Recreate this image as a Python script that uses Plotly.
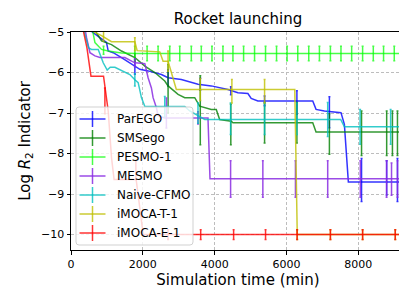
import plotly.graph_objects as go

# ---------------- data ----------------
methods = ["ParEGO", "SMSego", "PESMO-1", "MESMO", "Naive-CFMO", "iMOCA-T-1", "iMOCA-E-1"]
colors = ["rgba(0,0,255,0.8)", "rgba(0,128,0,0.8)", "rgba(0,255,0,0.72)", "rgba(138,43,226,0.85)",
          "rgba(0,191,191,0.8)", "rgba(191,191,0,0.8)", "rgba(255,0,0,0.8)"]

parego_x = [450, 592, 806, 989, 1036, 1175, 1406, 1778, 1917, 2147, 2517, 2703, 3072, 3536, 3906, 4370,
            4648, 4926, 5017, 5203, 6731, 6823, 7056, 7517, 7612, 7723, 9300]
parego_y = [-4.6, -5.0, -5.14, -5.26, -5.47, -5.51, -5.63, -5.84, -5.92, -5.96, -6.05, -6.13, -6.17, -6.29,
            -6.33, -6.42, -6.50, -6.52, -6.64, -6.70, -6.70, -6.91, -6.95, -6.99, -7.28, -8.70, -8.70]
parego_ex = [1778, 2703, 3600, 4450, 5390, 6290, 7195, 8090, 8790, 9090, 9230]
parego_ey = [-5.86, -6.13, -6.29, -6.45, -6.70, -6.74, -6.98, -8.65, -8.60, -8.65, -8.60]
parego_ee = [0.18, 0.20, 0.15, 0.10, 0.12, 0.29, 0.38, 0.53, 0.42, 0.53, 0.42]

smsego_x = [550, 711, 850, 1128, 1406, 1778, 2056, 2333, 2611, 2703, 2981, 3167, 3445, 3584, 3906, 4045,
            4139, 4462, 4509, 6731, 6823, 9300]
smsego_y = [-4.6, -5.02, -5.22, -5.31, -5.47, -5.63, -5.84, -6.00, -6.21, -6.33, -6.54, -6.62, -6.62, -6.83,
            -6.91, -6.91, -7.16, -7.20, -7.24, -7.24, -7.47, -7.47]
smsego_ex = [1778, 2703, 3600, 4450, 5390, 6290, 7195, 8090, 8790, 8950, 9090]
smsego_ey = [-5.63, -6.40, -6.93, -7.28, -7.24, -7.24, -7.52, -7.50, -7.50, -7.50, -7.50]
smsego_ee = [0.10, 0.60, 0.85, 0.50, 0.50, 0.50, 0.50, 0.55, 0.55, 0.55, 0.55]

pesmo_x = [500, 619, 667, 850, 1036, 1406, 1778, 9300]
pesmo_y = [-4.5, -5.0, -5.26, -5.43, -5.47, -5.52, -5.53, -5.53]
pesmo_ex = [906, 1778, 2119, 2425, 2750, 3028, 3350, 3628, 3925, 4231, 4509, 4806, 5111, 5417, 5723, 6017,
            6314, 6620, 6917, 7223, 7517, 7815, 8120, 8417, 8703, 9001]
pesmo_ey = [-5.45] + [-5.53] * 25
pesmo_ee = [0.10] + [0.18] * 25

mesmo_x = [330, 397, 433, 528, 667, 806, 1500, 1778, 2056, 2147, 2239, 2286, 2378, 2425, 2611, 3814, 3870, 9300]
mesmo_y = [-4.6, -5.0, -5.14, -5.51, -5.59, -5.63, -5.63, -5.76, -5.78, -6.13, -6.38, -6.62, -6.87, -7.07,
           -7.12, -7.12, -8.62, -8.62]
mesmo_ex = [1778, 2656, 3536, 4444, 5342, 6250, 7148, 8056, 8787, 8925, 9092, 9230]
mesmo_ey = [-5.76, -7.00, -7.12, -8.63, -8.63, -8.63, -8.63, -8.63, -8.63, -8.63, -8.63, -8.63]
mesmo_ee = [0.10, 0.37, 0.15, 0.45, 0.45, 0.45, 0.45, 0.45, 0.45, 0.40, 0.45, 0.40]

naive_x = [320, 370, 489, 572, 758, 897, 1008, 1092, 1222, 1453, 1639, 1778, 1870, 1961, 2056, 3167, 3306,
           3723, 7509, 7612, 9300]
naive_y = [-4.6, -5.0, -5.39, -5.43, -5.43, -5.76, -5.94, -5.87, -5.87, -5.96, -6.05, -6.18, -6.25, -6.62,
           -6.84, -6.84, -6.95, -7.16, -7.16, -7.34, -7.34]
naive_ex = [1778, 2611, 3536, 4444, 5390, 6290, 7148, 8050, 8900, 9230]
naive_ey = [-6.18, -6.84, -7.00, -7.14, -7.14, -7.14, -7.16, -7.34, -7.34, -7.34]
naive_ee = [0.15, 0.25, 0.25, 0.39, 0.39, 0.39, 0.42, 0.43, 0.43, 0.43]

imocat_x = [560, 647, 850, 1036, 1128, 1778, 1842, 2472, 2564, 2703, 2842, 2933, 6231, 6300, 9300]
imocat_y = [-4.8, -5.0, -5.09, -5.18, -5.24, -5.24, -5.46, -5.49, -5.72, -5.72, -6.17, -6.42, -6.42, -10.0, -10.0]
imocat_ex = [906, 1778, 2703, 3600, 4480, 5390, 6300, 7223, 8120, 9030]
imocat_ey = [-5.10, -5.30, -5.72, -6.42, -6.46, -6.46, -10.0, -10.0, -10.0, -10.0]
imocat_ee = [0.12, 0.16, 0.25, 0.27, 0.29, 0.29, 0.12, 0.12, 0.12, 0.12]

imocae_x = [300, 350, 444, 556, 906, 1036, 1128, 1200, 1814, 1900, 2010, 9300]
imocae_y = [-4.4, -5.0, -5.39, -6.09, -6.09, -6.95, -8.10, -8.64, -8.64, -9.30, -10.0, -10.0]
imocae_ex = [944, 1806, 2703, 3611, 4528, 5417, 6295, 7223, 8120, 9028]
imocae_ey = [-6.70, -8.41, -10.0, -10.0, -10.0, -10.0, -10.0, -10.0, -10.0, -10.0]
imocae_ee = [0.32, 0.23, 0.12, 0.12, 0.12, 0.12, 0.12, 0.12, 0.12, 0.12]

series = [
    (parego_x, parego_y, parego_ex, parego_ey, parego_ee),
    (smsego_x, smsego_y, smsego_ex, smsego_ey, smsego_ee),
    (pesmo_x, pesmo_y, pesmo_ex, pesmo_ey, pesmo_ee),
    (mesmo_x, mesmo_y, mesmo_ex, mesmo_ey, mesmo_ee),
    (naive_x, naive_y, naive_ex, naive_ey, naive_ee),
    (imocat_x, imocat_y, imocat_ex, imocat_ey, imocat_ee),
    (imocae_x, imocae_y, imocae_ex, imocae_ey, imocae_ee),
]

x_ticks = [0, 2000, 4000, 6000, 8000]
y_ticks = [-10, -9, -8, -7, -6, -5]

# ---------------- figure ----------------
W, H = 407, 288
ML, MR, MT, MB = 63, 10, 24, 46
PW, PH = W - ML - MR, H - MT - MB

fig = go.Figure()
for name, col, (sx, sy, ex, ey, ee) in zip(methods, colors, series):
    fig.add_trace(go.Scatter(x=sx, y=sy, mode="lines", name=name,
                             line=dict(color=col, width=1.5), showlegend=False))
    fig.add_trace(go.Scatter(x=ex, y=ey, mode="markers", name=name + " error",
                             marker=dict(size=1, color="rgba(0,0,0,0)"),
                             error_y=dict(type="data", array=ee, visible=True, color=col,
                                          thickness=1.5, width=1),
                             showlegend=False, hoverinfo="skip"))

# custom matplotlib-like legend
def px2paper_x(px):
    return (px - ML) / PW

def py2paper_y(py):
    return (H - MB - py) / PH

bx0, bx1 = px2paper_x(68), px2paper_x(185)
by0, by1 = py2paper_y(237), py2paper_y(99)
rx, ry = 3 / PW, 3 / PH
path = (f"M {bx0+rx},{by0} L {bx1-rx},{by0} Q {bx1},{by0} {bx1},{by0+ry} "
        f"L {bx1},{by1-ry} Q {bx1},{by1} {bx1-rx},{by1} L {bx0+rx},{by1} "
        f"Q {bx0},{by1} {bx0},{by1-ry} L {bx0},{by0+ry} Q {bx0},{by0} {bx0+rx},{by0} Z")
shapes = [dict(type="path", xref="paper", yref="paper", path=path, layer="above",
               fillcolor="rgba(255,255,255,0.8)", line=dict(color="rgba(204,204,204,0.9)", width=1))]
annotations = []
for i, (name, col) in enumerate(zip(methods, colors)):
    py = 111 + 19 * i
    yy = py2paper_y(py)
    shapes.append(dict(type="line", xref="paper", yref="paper", layer="above",
                       x0=px2paper_x(71.5), x1=px2paper_x(97.5), y0=yy, y1=yy,
                       line=dict(color=col, width=1.5)))
    shapes.append(dict(type="line", xref="paper", yref="paper", layer="above",
                       x0=px2paper_x(84.5), x1=px2paper_x(84.5),
                       y0=py2paper_y(py + 8), y1=py2paper_y(py - 8),
                       line=dict(color=col, width=1.5)))
    annotations.append(dict(x=px2paper_x(107), y=yy, xref="paper", yref="paper", text=name,
                            showarrow=False, xanchor="left", yanchor="middle",
                            font=dict(family="DejaVu Sans", size=12, color="black")))

axis_common = dict(showline=True, linecolor="black", linewidth=1, mirror=True,
                   ticks="outside", ticklen=3.5, tickwidth=1, tickcolor="black",
                   showgrid=True, gridcolor="#bdbdbd", gridwidth=0.8, griddash="3px,2px",
                   zeroline=False, tickfont=dict(family="DejaVu Sans", size=11, color="black"))

fig.update_layout(
    width=W, height=H, autosize=False,
    margin=dict(l=ML, r=MR, t=MT, b=MB, pad=0),
    paper_bgcolor="white", plot_bgcolor="white",
    title=dict(text="Rocket launching", x=0.5, xref="paper", y=1 - 5 / H, yref="container",
               xanchor="center", yanchor="top",
               font=dict(family="DejaVu Sans", size=15, color="black")),
    xaxis=dict(range=[0, 9300], tickvals=x_ticks, **axis_common,
               title=dict(text="Simulation time (min)", standoff=2,
                          font=dict(family="DejaVu Sans", size=15, color="black"))),
    yaxis=dict(range=[-10.38, -5], tickvals=y_ticks, **axis_common,
               title=dict(text="Log <i>R</i><sub>2</sub> Indicator", standoff=6,
                          font=dict(family="DejaVu Sans", size=15, color="black"))),
    shapes=shapes, annotations=annotations, showlegend=False,
)

fig.write_html("out.html")
